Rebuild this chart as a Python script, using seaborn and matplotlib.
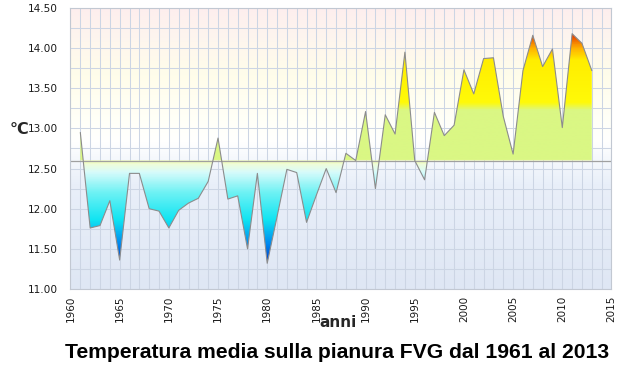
import numpy as np
import pandas as pd
import matplotlib
matplotlib.use("Agg")
import matplotlib.pyplot as plt
from matplotlib.colors import LinearSegmentedColormap
import seaborn as sns

# annual mean temperature, FVG plain
years = list(range(1961, 2014))
temps = [12.95, 11.76, 11.79, 12.10, 11.36, 12.44, 12.44, 12.00, 11.97, 11.76,
         11.98, 12.07, 12.13, 12.34, 12.88, 12.12, 12.16, 11.50, 12.44, 11.32,
         11.90, 12.49, 12.45, 11.83, 12.17, 12.50, 12.20, 12.69, 12.60, 13.21,
         12.25, 13.17, 12.93, 13.95, 12.60, 12.36, 13.20, 12.91, 13.04, 13.73,
         13.43, 13.87, 13.88, 13.15, 12.68, 13.72, 14.16, 13.77, 13.99, 13.01,
         14.18, 14.06, 13.72]
baseline = 12.6
yticks = [11.0, 11.5, 12.0, 12.5, 13.0, 13.5, 14.0, 14.5]
xticks = list(range(1960, 2016, 5))

df = pd.DataFrame({"anno": years, "temp": temps})

sns.set_style("white")
plt.rcParams["font.family"] = ["DejaVu Sans"]

fig = plt.figure(figsize=(6.26, 3.68), dpi=100)
ax = fig.add_axes([0.1126, 0.2147, 0.8642, 0.7636])

ymin, ymax = 11.0, 14.5
xmin, xmax = 1960, 2015

# background gradient
bg = LinearSegmentedColormap.from_list("bg", [
    (0.0, "#dfe7f4"), (0.37, "#e9eff9"), (0.46, "#f5f8fc"), (0.52, "#ffffff"),
    (0.62, "#fffff6"), (0.76, "#fffdea"), (0.88, "#fef6ee"), (1.0, "#fdeeee")])
grad = np.linspace(0, 1, 400).reshape(-1, 1)
ax.imshow(grad, cmap=bg, origin="lower", aspect="auto",
          extent=[xmin, xmax, ymin, ymax], zorder=0.1, interpolation="bilinear")

# fill colours depend on temperature level
def f(v):
    return (v - ymin) / (ymax - ymin)

fill_cmap = LinearSegmentedColormap.from_list("fill", [
    (0.0, "#0030c0"), (f(11.30), "#0030c0"), (f(11.55), "#0088f0"),
    (f(11.85), "#10e4f2"), (f(12.2), "#70f2f4"), (f(12.45), "#d8fbfb"),
    (f(12.55), "#f0fdd8"), (f(12.595), "#eefca0"), (f(12.60), "#daf784"),
    (f(13.22), "#daf784"), (f(13.32), "#fffa08"), (f(13.85), "#ffee00"),
    (f(14.0), "#ffb000"), (f(14.2), "#e02000"), (1.0, "#e02000")])
fill_img = ax.imshow(grad, cmap=fill_cmap, origin="lower", aspect="auto",
                     extent=[xmin, xmax, ymin, ymax], zorder=2,
                     interpolation="bilinear")
poly = ax.fill_between(df["anno"], df["temp"], baseline,
                       facecolor="none", edgecolor="none")
fill_img.set_clip_path(poly.get_paths()[0], transform=ax.transData)

ax.axhline(baseline, color="#a0a0a0", lw=0.9, zorder=2.5)
sns.lineplot(data=df, x="anno", y="temp", color="#8c8c8c", lw=0.8, ax=ax, zorder=3)

ax.set_xlim(xmin, xmax)
ax.set_ylim(ymin, ymax)
ax.set_xticks(xticks)
ax.set_xticks(range(1960, 2016), minor=True)
ax.set_yticks(yticks)
ax.set_yticks(np.arange(11.0, 14.51, 0.25), minor=True)
ax.set_yticklabels([f"{v:.2f}" for v in yticks], fontsize=7.6, color="#1a1a1a")
ax.set_xticklabels([str(x) for x in xticks], rotation=90, fontsize=7.5,
                   color="#1a1a1a")
ax.set_axisbelow(True)
ax.grid(True, which="both", color="#ccd5e4", lw=0.75, zorder=0.5)
ax.tick_params(axis="y", which="both", length=0, pad=9)
ax.tick_params(axis="x", which="both", length=0, pad=5)
for s in ax.spines.values():
    s.set_color("#c2c8d2")
    s.set_linewidth(0.8)

ax.set_xlabel("")
ax.set_ylabel("")
fig.text(0.016, 0.647, "°C", fontsize=11.5, fontweight="bold", ha="left", va="center")
fig.text(0.540, 0.124, "anni", fontsize=11, fontweight="bold", ha="center", va="center")
fig.text(0.538, 0.043, "Temperatura media sulla pianura FVG dal 1961 al 2013",
         fontsize=15.2, fontweight="bold", ha="center", va="center", color="black",
         family=["Liberation Sans", "DejaVu Sans"])

fig.savefig("out.png", dpi=100)
